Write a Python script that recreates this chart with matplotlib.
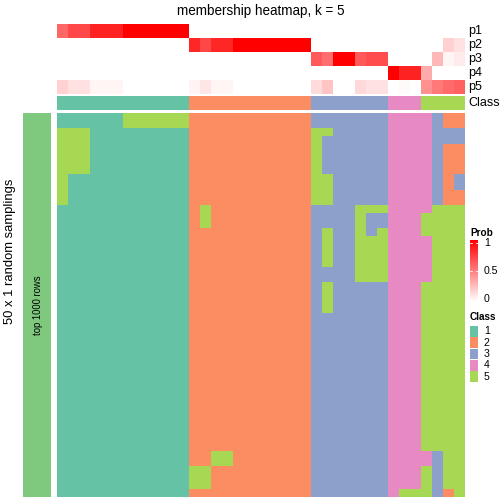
import matplotlib
matplotlib.use("Agg")
import matplotlib.pyplot as plt
from matplotlib.colors import ListedColormap, LinearSegmentedColormap
import numpy as np

plt.rcParams['font.family'] = ['Liberation Sans', 'DejaVu Sans']

title = "membership heatmap, k = 5"
prob_labels = ["p1", "p2", "p3", "p4", "p5"]
class_names = ["1", "2", "3", "4", "5"]
class_colors = ["#66C2A5", "#FC8D62", "#8DA0CB", "#E78AC3", "#A6D854"]

# class of each column (sample)
col_class = [1]*12 + [2]*11 + [3]*7 + [4]*3 + [5]*4

# membership probabilities, one list per class
p1 = [0.6, 0.71, 0.71, 0.86, 0.86, 0.86, 1, 1, 1, 1, 1, 1] + [0]*25
p2 = [0]*12 + [0.85, 0.72, 0.85, 0.85, 1, 1, 1, 1, 1, 1, 1] + [0]*12 + [0.18, 0.12]
p3 = [0]*23 + [0.65, 0.57, 1, 1, 0.65, 0.7, 0.7] + [0, 0, 0, 0, 0.28, 0.04, 0.08]
p4 = [0]*30 + [1, 0.86, 0.86, 0.33, 0, 0, 0]
p5 = ([0.18, 0.12, 0.12, 0.04, 0.04, 0.04] + [0]*6
      + [0.05, 0.1, 0.04, 0.04] + [0]*7
      + [0.14, 0.23, 0, 0, 0.15, 0.12, 0.12]
      + [0, 0.02, 0]
      + [0.43, 0.52, 0.58, 0.62])

# class per random sampling (rows) x sample (columns)
samplings = [
    "111111555555" "22222222222" "3333333" "444" "4322",
    "111111555555" "22222222222" "3333333" "444" "4322",
    "555111111111" "22222222222" "5533333" "444" "4333",
    "555111111111" "22222222222" "5333333" "444" "4333",
    "555111111111" "22222222222" "5333333" "444" "4322",
    "555111111111" "22222222222" "5333333" "444" "4322",
    "555111111111" "22222222222" "5333333" "444" "4322",
    "555111111111" "22222222222" "5333333" "444" "4322",
    "511111111111" "22222222222" "5533333" "444" "4323",
    "511111111111" "22222222222" "5533333" "444" "4323",
    "511111111111" "22222222222" "5533333" "444" "4322",
    "511111111111" "22222222222" "5533333" "444" "4322",
    "111111111111" "25222222222" "3333555" "444" "4555",
    "111111111111" "25222222222" "3333533" "444" "5555",
    "111111111111" "25222222222" "3333533" "444" "5555",
    "111111111111" "22222222222" "3533535" "444" "5555",
    "111111111111" "22222222222" "3533555" "444" "4555",
    "111111111111" "22222222222" "3533555" "444" "4555",
    "111111111111" "22222222222" "3533555" "444" "4555",
    "111111111111" "22222222222" "3533555" "444" "4555",
    "111111111111" "22222222222" "3333555" "444" "4555",
    "111111111111" "22222222222" "3333555" "444" "4555",
    "111111111111" "22222222222" "3533333" "444" "5555",
    "111111111111" "22222222222" "3533333" "444" "5555",
    "111111111111" "22222222222" "3533333" "444" "5555",
    "111111111111" "22222222222" "3533333" "444" "5555",
] + ["111111111111" "22222222222" "3333333" "444" "5555"] * 18 + [
    "111111111111" "22552222222" "3333333" "444" "4355",
    "111111111111" "22552222222" "3333333" "444" "4355",
    "111111111111" "55222222222" "3333333" "444" "5355",
    "111111111111" "55222222222" "3333333" "444" "5355",
    "111111111111" "55222222222" "3333333" "444" "5355",
    "111111111111" "22222222222" "3333333" "455" "5325",
]

W = H = 504
fig = plt.figure(figsize=(7, 7), dpi=72)

def ax_px(x0, y0, x1, y1):
    a = fig.add_axes([x0/W, 1 - y1/H, (x1 - x0)/W, (y1 - y0)/H])
    a.set_axis_off()
    return a

prob_cmap = LinearSegmentedColormap.from_list("prob", ["#FFFFFF", "#FF0000"])
class_cmap = ListedColormap(class_colors)

# top probability rows
P = np.array([p1, p2, p3, p4, p5])
ax_p = ax_px(57, 24, 465, 94)
ax_p.imshow(P, cmap=prob_cmap, vmin=0, vmax=1, aspect='auto', interpolation='nearest')

# class annotation row
ax_c = ax_px(57, 96, 465, 110)
ax_c.imshow(np.array([col_class]) - 1, cmap=class_cmap, vmin=-0.5, vmax=4.5,
            aspect='auto', interpolation='nearest')

for i, lab in enumerate(prob_labels):
    fig.text(468/W, 1 - (31 + 14*i)/H, lab, fontsize=12.5, va='center', ha='left')
fig.text(468/W, 1 - 103/H, "Class", fontsize=12.5, va='center', ha='left')

# main heatmap
M = np.array([[int(ch) for ch in row] for row in samplings])
ax_m = ax_px(57, 113, 465, 497)
ax_m.imshow(M - 1, cmap=class_cmap, vmin=-0.5, vmax=4.5, aspect='auto', interpolation='nearest')

# left bar
ax_l = ax_px(23, 113, 51, 497)
ax_l.add_patch(plt.Rectangle((0, 0), 1, 1, color="#7FC97F"))
ax_l.text(0.55, 0.5, "top 1000 rows", rotation=90, fontsize=9.5, ha='center', va='center')

fig.text(10/W, 1 - 251/H, "50 x 1 random samplings", rotation=90, fontsize=13,
         ha='center', va='center')
fig.text(261/W, 1 - 11/H, title, fontsize=13.5, ha='center', va='center')

# Prob legend
fig.text(470/W, 1 - 233/H, "Prob", fontsize=10, fontweight='bold', ha='left', va='center')
ax_cb = ax_px(470, 240, 478, 302)
grad = np.linspace(1, 0, 100).reshape(-1, 1)
ax_cb.imshow(grad, cmap=prob_cmap, vmin=0, vmax=1, aspect='auto', extent=(0, 1, 0, 1))
ax_cb.set_xlim(0, 1)
ax_cb.set_ylim(0, 1)
for v, lab in [(0.95, "1"), (0.5, "0.5"), (0.05, "0")]:
    ax_cb.plot([0, 0.25], [v, v], color='white', lw=0.8)
    ax_cb.plot([0.75, 1], [v, v], color='white', lw=0.8)
    fig.text(484/W, 1 - (302 - v*62)/H, lab, fontsize=10.5, ha='left', va='center')

# Class legend
fig.text(470/W, 1 - 317/H, "Class", fontsize=10, fontweight='bold', ha='left', va='center')
for i, (name, col) in enumerate(zip(class_names, class_colors)):
    y0 = 326 + 11.3*i
    a = ax_px(470, y0, 478, y0 + 10.6)
    a.add_patch(plt.Rectangle((0, 0), 1, 1, color=col))
    fig.text(484/W, 1 - (y0 + 5.5)/H, name, fontsize=10.5, ha='left', va='center')

fig.savefig("out.png", dpi=72)
